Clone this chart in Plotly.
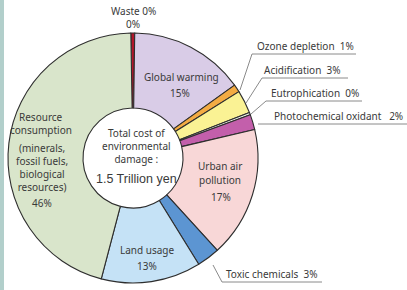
import plotly.graph_objects as go

W, H = 407, 290

categories = ["Waste", "Global warming", "Ozone depletion", "Acidification",
              "Eutrophication", "Photochemical oxidant", "Urban air pollution",
              "Toxic chemicals", "Land usage", "Resource consumption"]
values = [0.5, 15, 1, 3, 0.3, 2, 17, 3, 13, 46]
colors = ["#b3162b", "#d9cce7", "#f3ab43", "#faf294", "#eef2e6", "#c35fab",
          "#f8d7d7", "#5c95d2", "#c5e2f6", "#d9e5cb"]

center_lines = ["Total cost of", "environmental", "damage :"]
center_total = "1.5 Trillion yen"
resource_detail = ["(minerals,", "fossil fuels,", "biological", "resources)"]


def px(x):
    return x / W


def py(y):
    return 1 - y / H


FONT = "Noto Sans, Open Sans, sans-serif"
TOTAL_FONT = "Liberation Sans, Arial, sans-serif"
TXT = "#3a3a3a"

fig = go.Figure(go.Pie(
    labels=categories, values=values, sort=False, direction="clockwise",
    rotation=-1, hole=0.40, textinfo="none", hoverinfo="label+percent",
    marker=dict(colors=colors, line=dict(color="#2e2e2e", width=1.1)),
    domain=dict(x=[px(8), px(258)], y=[py(283), py(33)]),
    showlegend=False,
))

annotations = []


def txt(x, y, s, size=10, anchor="center", family=FONT):
    annotations.append(dict(x=px(x), y=py(y), xref="paper", yref="paper", text=s,
                            showarrow=False, xanchor=anchor, yanchor="middle",
                            align="center", borderpad=0,
                            font=dict(family=family, size=size, color=TXT)))


txt(133, 11, "Waste 0%")
txt(133, 24, "0%")
txt(181, 77, "Global warming")
txt(180, 93, "15%")
txt(256, 46, "Ozone depletion&nbsp;&nbsp;1%", anchor="left")
txt(263, 70, "Acidification&nbsp;&nbsp;3%", anchor="left")
txt(270, 93, "Eutrophication&nbsp;&nbsp;0%", anchor="left")
txt(273, 116, "Photochemical oxidant&nbsp;&nbsp;&nbsp;2%", anchor="left")
txt(220, 166, "Urban air")
txt(220, 180, "pollution")
txt(221, 197, "17%")
txt(225, 274, "Toxic chemicals&nbsp;&nbsp;3%", anchor="left")
txt(147, 250, "Land usage")
txt(147, 266, "13%")
txt(41, 117, "Resource")
txt(41, 130, "consumption")
txt(42, 167, "<br>".join(resource_detail))
txt(42, 203, "46%")
txt(136, 146, "<br>".join(center_lines))
txt(136, 179, center_total, size=12.5, family=TOTAL_FONT)

shapes = [dict(type="rect", xref="paper", yref="paper", x0=0, x1=px(4), y0=0, y1=1,
               fillcolor="#b2cfcb", line=dict(width=0), layer="below")]


def path(pts, color="#8a8a8a"):
    d = "M " + " L ".join(f"{px(x)},{py(y)}" for x, y in pts)
    shapes.append(dict(type="path", xref="paper", yref="paper", path=d,
                       line=dict(color=color, width=1)))


path([(240, 90), (252, 54), (356, 54)])
path([(246, 103), (262, 78), (348, 78)])
path([(251, 114), (266, 101), (362, 101)])
path([(258, 124), (407, 124)])
path([(213, 265), (222, 282), (322, 282)])

fig.update_layout(width=W, height=H, margin=dict(l=0, r=0, t=0, b=0),
                  paper_bgcolor="white", plot_bgcolor="white",
                  annotations=annotations, shapes=shapes)
fig.write_html("out.html", config={"displayModeBar": False},
               post_script="document.body.style.margin='0';")
